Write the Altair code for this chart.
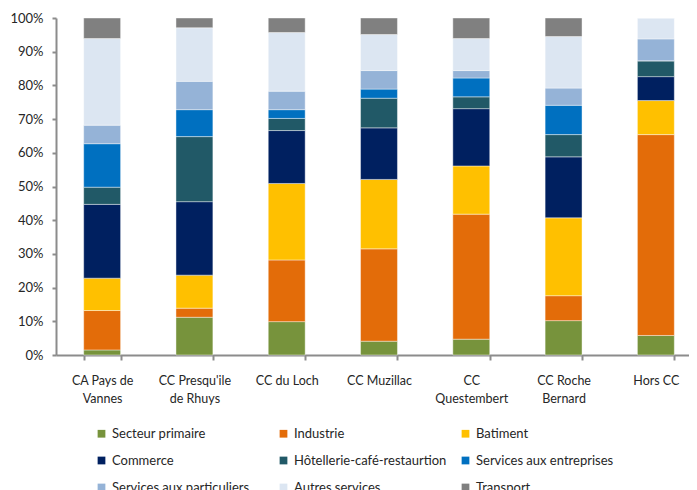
import altair as alt
import pandas as pd

categories = ["CA Pays de\nVannes", "CC Presqu'ile\nde Rhuys", "CC du Loch", "CC Muzillac",
              "CC\nQuestembert", "CC Roche\nBernard", "Hors CC"]
series = ["Secteur primaire", "Industrie", "Batiment", "Commerce",
          "Hôtellerie-café-restaurtion", "Services aux entreprises",
          "Services aux particuliers", "Autres services", "Transport"]
colors = ["#77933C", "#E36C09", "#FFC000", "#002060", "#215967",
          "#0070C0", "#95B3D7", "#DCE6F2", "#808080"]

# shares (%) per category, in series order
values = {
    "CA Pays de\nVannes":      [1.5, 11.7, 9.6, 21.9, 5.1, 12.9, 5.5, 25.7, 6.1],
    "CC Presqu'ile\nde Rhuys": [11.2, 2.7, 9.8, 21.8, 19.3, 8.0, 8.4, 15.9, 2.9],
    "CC du Loch":              [9.9, 18.3, 22.7, 15.7, 3.6, 2.6, 5.5, 17.4, 4.3],
    "CC Muzillac":             [4.1, 27.4, 20.6, 15.3, 8.8, 2.7, 5.5, 10.7, 4.9],
    "CC\nQuestembert":         [4.7, 37.1, 14.3, 17.0, 3.5, 5.6, 2.2, 9.5, 6.1],
    "CC Roche\nBernard":       [10.2, 7.4, 23.1, 18.1, 6.6, 8.7, 5.1, 15.3, 5.5],
    "Hors CC":                 [5.8, 59.6, 10.1, 7.1, 4.7, 0.0, 6.5, 6.2, 0.0],
}

rows = []
for c in categories:
    for i, s in enumerate(series):
        rows.append({"cat": c, "series": s, "idx": i, "value": values[c][i]})
df = pd.DataFrame(rows)

FONT = "Lato"
TXT = "#262626"

chart = alt.Chart(df).mark_bar(stroke="#ffffff", strokeWidth=0.6, strokeOpacity=0.7).encode(
    x=alt.X("cat:N", sort=categories, title=None,
            scale=alt.Scale(paddingInner=0.6, paddingOuter=0.3),
            axis=alt.Axis(labelAngle=0, labelExpr="split(datum.label, '\\n')",
                          tickBand="extent", tickSize=5, labelPadding=14,
                          labelLineHeight=18, labelFontSize=12.5, labelFont=FONT,
                          labelColor=TXT, domainColor="#8c8c8c", tickColor="#8c8c8c",
                          domainWidth=2, tickWidth=2, labelLimit=200)),
    y=alt.Y("value:Q", stack="normalize", title=None,
            scale=alt.Scale(domain=[0, 1], nice=False),
            axis=alt.Axis(format=".0%", values=[i / 10 for i in range(11)], grid=False,
                          tickSize=4, labelPadding=9, labelFontSize=13, labelFont=FONT,
                          labelColor=TXT, domainColor="#8c8c8c", tickColor="#8c8c8c",
                          domainWidth=2, tickWidth=2)),
    color=alt.Color("series:N", sort=series,
                    scale=alt.Scale(domain=series, range=colors),
                    legend=alt.Legend(title=None, orient="none", legendX=39, legendY=409,
                                      columns=3, direction="horizontal",
                                      symbolType="square", symbolSize=60,
                                      symbolStrokeWidth=0, labelFontSize=13,
                                      labelFont=FONT, labelColor=TXT,
                                      columnPadding=12, rowPadding=13,
                                      gridAlign="all", labelLimit=300)),
    order=alt.Order("idx:Q", sort="ascending"),
).properties(
    width=646, height=337,
    autosize=alt.AutoSizeParams(type="none"),
    padding={"left": 48, "top": 10, "right": -13, "bottom": 150},
).configure_view(stroke=None)

chart.save("out.html", embed_options={"renderer": "svg", "actions": False})
